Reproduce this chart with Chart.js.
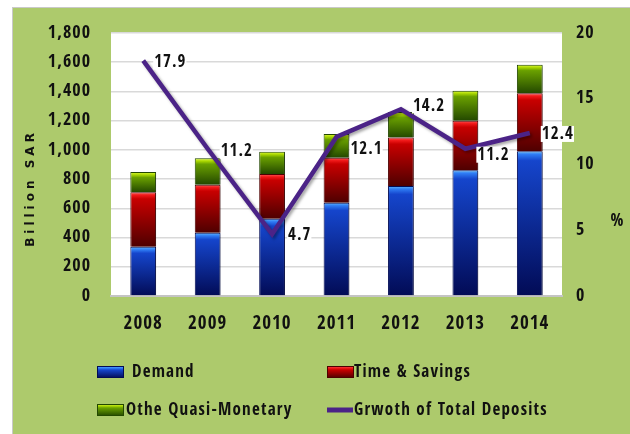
<!DOCTYPE html>
<html>
<head>
<meta charset="utf-8">
<script src="https://cdn.jsdelivr.net/npm/chart.js@4.4.1/dist/chart.umd.min.js"></script>
<style>
html, body { margin: 0; padding: 0; background: #fff; }
</style>
</head>
<body>
<canvas id="myChart" width="630" height="434"></canvas>
<script>
// values (billion SAR / %)
const years = ['2008', '2009', '2010', '2011', '2012', '2013', '2014'];
const demand = [337, 433, 529, 639, 753, 860, 990];
const timeSavings = [373, 329, 306, 308, 331, 340, 397];
const quasiMonetary = [139, 180, 153, 162, 176, 205, 196];
const growth = [17.9, 11.2, 4.7, 12.1, 14.2, 11.2, 12.4];
const leftTicks = [0, 200, 400, 600, 800, 1000, 1200, 1400, 1600, 1800];
const rightTicks = [0, 5, 10, 15, 20];

const FONT = '"Open Sans Condensed", "Roboto Condensed", sans-serif';
const GREEN_BG = '#adca6c';
const LINE_COLOR = '#4b2387';

// glossy shades: bevel, under bevel, body, bottom
const blueShades = ['#63bcff', '#2f7cf4', '#1545cc', '#020b55'];
const redShades = ['#ff5a5a', '#f01818', '#c80000', '#4e0000'];
const greenShades = ['#e4ff3a', '#a6d400', '#6aa000', '#234800'];

// nudges for the growth labels, relative to each point
const labelShift = [[11, 1], [13, 2], [16, 0], [14, 12], [12, -4], [12, 6], [12, 1]];

function glossy(ctx, top, bottom, c) {
    const g = ctx.createLinearGradient(0, top, 0, bottom);
    const h = Math.max(bottom - top, 1);
    const s = Math.min(5 / h, 0.3);
    g.addColorStop(0, c[0]);
    g.addColorStop(s * 0.6, c[1]);
    g.addColorStop(Math.min(s + 0.03, 1), c[2]);
    g.addColorStop(1, c[3]);
    return g;
}

function barFill(series, c) {
    return function (ctx) {
        const chart = ctx.chart;
        if (!chart.chartArea || ctx.type !== 'data') return c[2];
        const y = chart.scales.y;
        const i = ctx.dataIndex;
        let base = 0;
        for (let d = 0; d < ctx.datasetIndex; d++) {
            const ds = chart.data.datasets[d];
            if (ds.type !== 'line') base += ds.data[i];
        }
        return glossy(chart.ctx, y.getPixelForValue(base + series[i]), y.getPixelForValue(base), c);
    };
}

const decor = {
    id: 'decor',
    beforeUpdate(chart) {
        chart.ctx.letterSpacing = '1px';
    },
    beforeDraw(chart) {
        const ctx = chart.ctx;
        const a = chart.chartArea;
        ctx.letterSpacing = '1px';
        ctx.save();
        ctx.fillStyle = '#fff';
        ctx.fillRect(0, 0, chart.width, chart.height);
        ctx.fillStyle = '#c9c9c9';
        ctx.fillRect(12, 7, chart.width - 12, chart.height - 7);
        ctx.fillStyle = GREEN_BG;
        ctx.fillRect(13, 8, chart.width - 13, chart.height - 8);
        ctx.fillStyle = '#fff';
        ctx.fillRect(a.left, a.top, a.right - a.left, a.bottom - a.top);
        ctx.restore();
    },
    beforeDatasetDraw(chart, args) {
        const ctx = chart.ctx;
        ctx.save();
        if (args.index === 3) {
            ctx.shadowColor = 'rgba(0,0,0,0.35)';
            ctx.shadowBlur = 3;
            ctx.shadowOffsetX = 2;
            ctx.shadowOffsetY = 2;
        } else {
            ctx.shadowColor = 'rgba(0,0,0,0.25)';
            ctx.shadowBlur = 2;
            ctx.shadowOffsetX = 2;
            ctx.shadowOffsetY = 1;
        }
    },
    afterDatasetDraw(chart) {
        chart.ctx.restore();
    },
    afterDatasetsDraw(chart) {
        // value labels for the growth line
        const ctx = chart.ctx;
        const meta = chart.getDatasetMeta(3);
        ctx.save();
        ctx.font = 'bold 17px ' + FONT;
        ctx.letterSpacing = '1px';
        ctx.textBaseline = 'middle';
        ctx.textAlign = 'left';
        meta.data.forEach((pt, i) => {
            const txt = growth[i].toFixed(1);
            const x = pt.x + labelShift[i][0];
            const y = pt.y + labelShift[i][1];
            const w = ctx.measureText(txt).width;
            ctx.fillStyle = '#fff';
            ctx.fillRect(x - 1, y - 8, w + 1, 16);
            ctx.fillStyle = '#111';
            ctx.fillText(txt, x, y + 1);
        });
        ctx.restore();
    },
    afterDraw(chart) {
        const ctx = chart.ctx;
        ctx.save();
        ctx.fillStyle = '#111';
        // left axis title
        ctx.save();
        ctx.translate(31, 190);
        ctx.rotate(-Math.PI / 2);
        ctx.font = 'bold 12px "DejaVu Sans", sans-serif';
        ctx.letterSpacing = '4px';
        ctx.textAlign = 'center';
        ctx.textBaseline = 'middle';
        ctx.fillText('Billion SAR', 2, 0);
        ctx.restore();
        // right axis title
        ctx.font = 'bold 17px ' + FONT;
        ctx.letterSpacing = '0px';
        ctx.textAlign = 'center';
        ctx.textBaseline = 'middle';
        ctx.fillText('%', 617, 222);

        // legend, two rows by two columns
        const ds = chart.data.datasets;
        const items = [
            { d: 0, x: 97, y: 372, tx: 132, c: blueShades },
            { d: 1, x: 327, y: 372, tx: 354, c: redShades },
            { d: 2, x: 97, y: 410, tx: 126, c: greenShades },
            { d: 3, x: 327, y: 410, tx: 354 }
        ];
        ctx.font = 'bold 17px ' + FONT;
        ctx.letterSpacing = '1.2px';
        ctx.textAlign = 'left';
        items.forEach(it => {
            if (it.c) {
                ctx.fillStyle = glossy(ctx, it.y - 6, it.y + 6, it.c);
                ctx.fillRect(it.x, it.y - 6, 27, 12);
                ctx.strokeStyle = it.c[3];
                ctx.lineWidth = 1;
                ctx.strokeRect(it.x + 0.5, it.y - 5.5, 26, 11);
            } else {
                ctx.strokeStyle = LINE_COLOR;
                ctx.lineWidth = 5;
                ctx.beginPath();
                ctx.moveTo(it.x, it.y);
                ctx.lineTo(it.x + 26, it.y);
                ctx.stroke();
            }
            ctx.fillStyle = '#111';
            ctx.fillText(ds[it.d].label, it.tx, it.y + 1);
        });
        ctx.restore();
    }
};

Chart.defaults.font.family = FONT;
Chart.defaults.font.weight = 'bold';
Chart.defaults.color = '#111';

new Chart(document.getElementById('myChart').getContext('2d'), {
    type: 'bar',
    data: {
        labels: years,
        datasets: [
            {
                label: 'Demand',
                data: demand,
                backgroundColor: barFill(demand, blueShades),
                borderColor: blueShades[3],
                borderWidth: 1,
                order: 1
            },
            {
                label: 'Time & Savings',
                data: timeSavings,
                backgroundColor: barFill(timeSavings, redShades),
                borderColor: redShades[3],
                borderWidth: 1,
                order: 1
            },
            {
                label: 'Othe Quasi-Monetary',
                data: quasiMonetary,
                backgroundColor: barFill(quasiMonetary, greenShades),
                borderColor: greenShades[3],
                borderWidth: 1,
                order: 1
            },
            {
                type: 'line',
                label: 'Grwoth of Total Deposits',
                data: growth,
                yAxisID: 'y1',
                borderColor: LINE_COLOR,
                borderWidth: 4.5,
                pointRadius: 0,
                tension: 0,
                fill: false,
                order: 0
            }
        ]
    },
    options: {
        responsive: false,
        animation: false,
        devicePixelRatio: 1,
        layout: { padding: { top: 33, left: 0, right: 0, bottom: 0 } },
        datasets: {
            bar: { barPercentage: 0.4, categoryPercentage: 1 }
        },
        plugins: {
            legend: { display: false },
            tooltip: { enabled: false }
        },
        scales: {
            x: {
                stacked: true,
                grid: { display: false, drawTicks: false },
                border: { color: '#c4c4c4', width: 2 },
                ticks: { font: { size: 19 }, padding: 17 },
                afterFit(s) { s.height = 138; }
            },
            y: {
                stacked: true,
                min: 0,
                max: 1800,
                afterBuildTicks(s) { s.ticks = leftTicks.map(v => ({ value: v })); },
                ticks: {
                    font: { size: 18 },
                    padding: 20,
                    callback: v => v.toLocaleString('en-US')
                },
                grid: { color: '#d9d9d9', lineWidth: 1.5, drawTicks: false },
                border: { display: false },
                afterFit(s) { s.width = 111; }
            },
            y1: {
                position: 'right',
                min: 0,
                max: 20,
                afterBuildTicks(s) { s.ticks = rightTicks.map(v => ({ value: v })); },
                ticks: { font: { size: 18 }, padding: 14 },
                grid: { display: false, drawTicks: false },
                border: { display: false },
                afterFit(s) { s.width = 68; }
            }
        }
    },
    plugins: [decor]
});
</script>
</body>
</html>
